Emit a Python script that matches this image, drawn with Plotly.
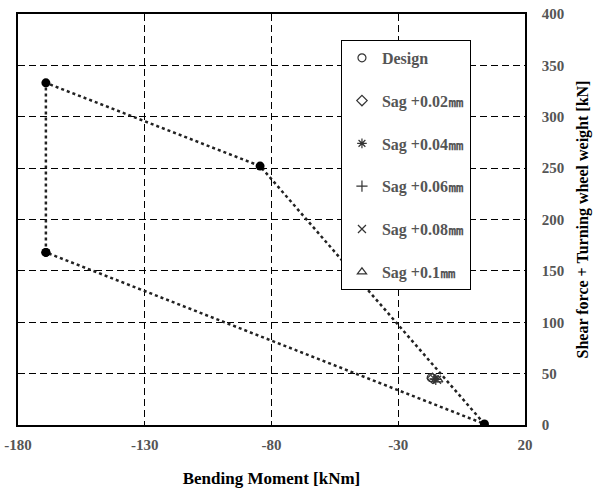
import plotly.graph_objects as go

# Design envelope (closed polygon)
env_x = [-169, -169, -84.5, 4.0, -169]
env_y = [168, 333, 252, 1, 168]

# Cluster of sag cases
series_names = ["Design", "Sag +0.02㎜", "Sag +0.04㎜", "Sag +0.06㎜", "Sag +0.08㎜", "Sag +0.1㎜"]
series_x = [-17.0, -16.5, -15.8, -15.2, -14.7, -14.2]
series_y = [46, 45.5, 45, 44.5, 44, 44]
symbols = ["circle-open", "diamond-open", "asterisk-open", "cross-thin-open", "x-thin-open", "triangle-up-open"]

x_ticks = [-180, -130, -80, -30, 20]
y_ticks = [0, 50, 100, 150, 200, 250, 300, 350, 400]

font_family = "Liberation Serif, Times New Roman, serif"

fig = go.Figure()
fig.add_trace(go.Scatter(
    x=env_x, y=env_y, mode="lines+markers",
    line=dict(color="#222", width=2.5, dash="dot"),
    marker=dict(color="black", size=9),
    showlegend=False,
))
for i, (n, xv, yv, s) in enumerate(zip(series_names, series_x, series_y, symbols)):
    fig.add_trace(go.Scatter(
        x=[xv], y=[yv], mode="markers", name=n,
        legendgroup=f"g{i}",
        marker=dict(symbol=s, size=8, color="#333", line=dict(width=1.2, color="#333")),
    ))

fig.update_layout(
    width=595, height=488,
    margin=dict(l=18, r=70, t=14, b=63, autoexpand=False),
    plot_bgcolor="white", paper_bgcolor="white",
    font=dict(family=font_family, color="#555", size=14),
    legend=dict(
        x=0.637, y=0.937, xanchor="left", yanchor="top",
        bordercolor="black", borderwidth=1, bgcolor="white",
        tracegroupgap=19,
        font=dict(family=font_family, size=16, color="#555", weight="bold"),
        itemwidth=30,
    ),
    xaxis=dict(
        range=[-180, 20], tickvals=x_ticks, ticktext=[str(v) for v in x_ticks],
        showgrid=True, gridcolor="black", griddash="7px,4px", gridwidth=1,
        showline=True, linecolor="black", linewidth=1.5, mirror=True,
        zeroline=False, ticks="", ticklen=0, automargin=False, ticklabelstandoff=5,
        tickfont=dict(family=font_family, size=15, color="#555", weight="bold"),
        title=dict(text="<b>Bending Moment [kNm]</b>", standoff=28,
                   font=dict(family=font_family, size=17, color="black")),
    ),
    yaxis=dict(
        range=[0, 400], tickvals=y_ticks, side="right",
        showgrid=True, gridcolor="black", griddash="7px,4px", gridwidth=1,
        showline=True, linecolor="black", linewidth=1.5, mirror=True,
        zeroline=False, ticks="", ticklen=0, automargin=False, ticklabelstandoff=12,
        tickfont=dict(family=font_family, size=15, color="#555", weight="bold"),
        title=dict(text="<b>Shear force + Turning wheel weight [kN]</b>", standoff=14,
                   font=dict(family=font_family, size=16, color="black")),
    ),
)

fig.write_html("out.html")
